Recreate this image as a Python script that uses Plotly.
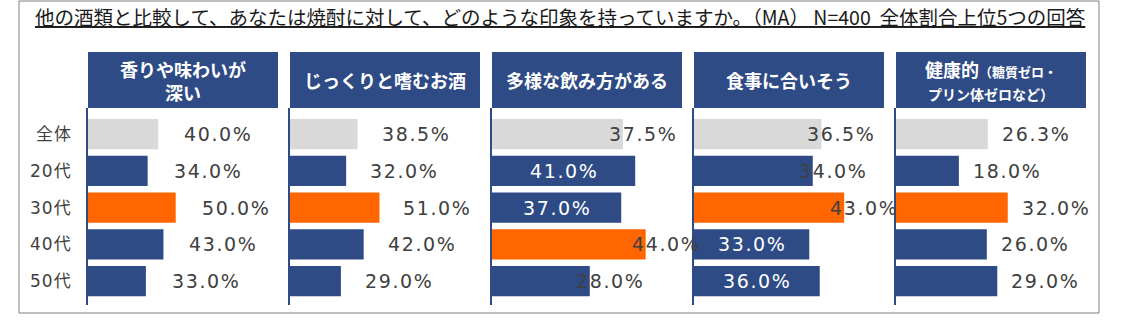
import plotly.graph_objects as go

# ---- data -------------------------------------------------------------
title_text = "他の酒類と比較して、あなたは焼酎に対して、どのような印象を持っていますか。（MA） N=400  全体割合上位5つの回答"

groups = ["全体", "20代", "30代", "40代", "50代"]

headers = [
    "香りや味わいが<br>深い",
    "じっくりと嗜むお酒",
    "多様な飲み方がある",
    "食事に合いそう",
    "健康的<span style='font-size:13px'>（糖質ゼロ・</span><br>"
    "<span style='font-size:14px'>プリン体ゼロなど）</span>",
]

v_kaori = [40.0, 34.0, 50.0, 43.0, 33.0]
v_jikkuri = [38.5, 32.0, 51.0, 42.0, 29.0]
v_tayou = [37.5, 41.0, 37.0, 44.0, 28.0]
v_shokuji = [36.5, 34.0, 43.0, 33.0, 36.0]
v_kenkou = [26.3, 18.0, 32.0, 26.0, 29.0]

series = [v_kaori, v_jikkuri, v_tayou, v_shokuji, v_kenkou]

# ---- style ------------------------------------------------------------
W, H = 1121, 324
NAVY = "#2E4B86"
ORANGE = "#FF6600"
GRAY = "#D9D9D9"
TEXT = "#404040"

PANEL_LEFT = [88, 290, 492, 694, 896]
PANEL_W = 190
PANEL_XMAX = [108.3, 108.3, 54.4, 54.4, 54.4]
LABEL_SHIFT = [24, 22, -16, -16, 12]
INSIDE_LABELS = {(2, 1), (2, 2), (3, 3), (3, 4)}

PLOT_TOP, PLOT_BOTTOM = 108, 305
HEAD_TOP = 52

LABEL_FONT = dict(family="DejaVu Sans, Noto Sans CJK JP", size=19, color=TEXT)


def px(xp):
    return xp / W


def py(yp):
    return 1 - yp / H


def spaced(s, gap=1.6):
    return f"<span style='letter-spacing:{gap}px'>{s}</span>"


fig = go.Figure()
annotations = []
shapes = []

for k, vals in enumerate(series):
    ax = "" if k == 0 else str(k + 1)
    ages = vals[1:]
    top_age = 1 + ages.index(max(ages))
    colors = []
    for i in range(len(vals)):
        if i == 0:
            colors.append(GRAY)
        elif i == top_age:
            colors.append(ORANGE)
        else:
            colors.append(NAVY)

    fig.add_trace(go.Bar(
        x=vals, y=groups, orientation="h",
        marker=dict(color=colors, line=dict(width=0)),
        width=0.82,
        xaxis="x" + ax, yaxis="y" + ax,
        hoverinfo="skip", showlegend=False,
    ))

    left = PANEL_LEFT[k]
    fig.layout["xaxis" + ax] = dict(
        domain=[px(left), px(left + PANEL_W)],
        range=[0, PANEL_XMAX[k]],
        visible=False, fixedrange=True,
        anchor="y" + ax,
    )
    fig.layout["yaxis" + ax] = dict(
        domain=[py(PLOT_BOTTOM), py(PLOT_TOP)],
        type="category", categoryarray=groups,
        range=[4.65, -0.71],
        showticklabels=False, showgrid=False, zeroline=False,
        showline=True, linecolor=NAVY, linewidth=2,
        ticks="", anchor="x" + ax, fixedrange=True,
    )

    # header box and caption
    shapes.append(dict(
        type="rect", xref=f"x{ax} domain", yref="paper",
        x0=0, x1=1, y0=py(PLOT_TOP), y1=py(HEAD_TOP),
        fillcolor=NAVY, line=dict(width=0), layer="below",
    ))
    annotations.append(dict(
        xref=f"x{ax} domain", yref="paper",
        x=0.5, y=py((HEAD_TOP + PLOT_TOP) / 2),
        xanchor="center", yanchor="middle",
        text=f"<b>{headers[k]}</b>", showarrow=False,
        font=dict(family="Noto Sans CJK JP", size=18, color="white"),
    ))

    # value labels
    for i, v in enumerate(vals):
        label = spaced(f"{v:.1f}%")
        if (k, i) in INSIDE_LABELS:
            annotations.append(dict(
                xref="x" + ax, yref="y" + ax, x=v / 2, y=groups[i],
                xanchor="center", yanchor="middle", text=label,
                showarrow=False, font=dict(LABEL_FONT, color="white"),
            ))
        else:
            annotations.append(dict(
                xref="x" + ax, yref="y" + ax, x=v, y=groups[i],
                xanchor="left", yanchor="middle", xshift=LABEL_SHIFT[k],
                text=label, showarrow=False, font=LABEL_FONT,
            ))

# row labels
for g in groups:
    annotations.append(dict(
        xref="paper", yref="y", x=px(74), y=g,
        xanchor="right", yanchor="middle", text=spaced(g, 1),
        showarrow=False,
        font=dict(family="DejaVu Sans, Noto Sans CJK JP", size=17, color=TEXT),
    ))

# title
annotations.append(dict(
    xref="paper", yref="paper", x=px(33), y=py(16),
    xanchor="left", yanchor="middle",
    text=f"<u>{title_text}</u>", showarrow=False,
    font=dict(family="Noto Sans CJK JP", size=19.5, color="#1A1A1A"),
))

# outer frame
shapes.append(dict(
    type="rect", xref="paper", yref="paper",
    x0=px(19), x1=px(1099), y0=py(313), y1=py(1),
    line=dict(color="#808080", width=1), fillcolor="rgba(0,0,0,0)",
))

fig.update_layout(
    width=W, height=H,
    margin=dict(l=0, r=0, t=0, b=0),
    paper_bgcolor="white", plot_bgcolor="rgba(0,0,0,0)",
    bargap=0.18,
    annotations=annotations, shapes=shapes,
    showlegend=False,
)

fig.write_html("out.html", config={"displayModeBar": False})
